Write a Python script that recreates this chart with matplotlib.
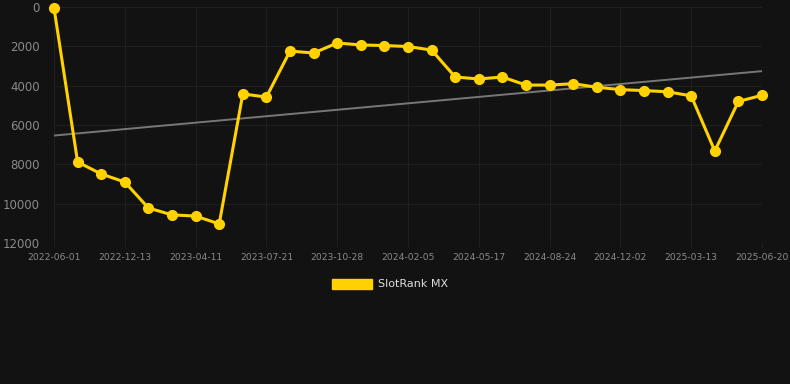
import matplotlib
matplotlib.use("Agg")
import matplotlib.pyplot as plt
import numpy as np
from matplotlib.patches import Patch

plt.rcParams['font.family'] = ['DejaVu Sans']

dates = ["2022-06-01", "2022-08-06", "2022-10-10", "2022-12-13", "2023-01-22",
         "2023-03-02", "2023-04-11", "2023-05-15", "2023-06-18", "2023-07-21",
         "2023-08-24", "2023-09-25", "2023-10-28", "2023-11-30", "2024-01-03",
         "2024-02-05", "2024-03-09", "2024-04-13", "2024-05-17", "2024-06-19",
         "2024-07-22", "2024-08-24", "2024-09-26", "2024-10-30", "2024-12-02",
         "2025-01-04", "2025-02-08", "2025-03-13", "2025-04-15", "2025-05-18",
         "2025-06-20"]
rank = [50, 7880, 8490, 8900, 10220, 10570, 10630, 11030, 4420, 4580,
        2240, 2340, 1830, 1930, 1960, 2010, 2190, 3560, 3660, 3560,
        3970, 3970, 3900, 4080, 4200, 4250, 4310, 4520, 7320, 4800,
        4490]
series_name = "SlotRank MX"
yticks = [0, 2000, 4000, 6000, 8000, 10000, 12000]

bg = "#121212"
gold = "#FFD200"

fig = plt.figure(figsize=(7.9, 3.84), dpi=100, facecolor=bg)
ax = fig.add_axes([54/790, 1-243/384, (762-54)/790, (243-7)/384], facecolor=bg)

x = np.arange(len(dates))
coef = np.polyfit(x, rank, 1)
ax.plot(x, np.polyval(coef, x), color="#777777", lw=1.4, zorder=2)
ax.plot(x, rank, color=gold, lw=2.2, marker="o", markersize=7, zorder=3, clip_on=False)

ax.set_xlim(0, len(dates) - 1)
ax.set_ylim(12000, 0)
ax.set_yticks(yticks)
ax.set_yticklabels([str(v) for v in yticks])
ax.set_xticks(x[::3])
ax.set_xticklabels(dates[::3])

ax.grid(True, color="#1f1f1f", lw=0.8)
for s in ax.spines.values():
    s.set_visible(False)
ax.tick_params(axis="y", length=0, pad=10, labelsize=8.5, labelcolor="#8a8a8a")
ax.tick_params(axis="x", length=3, color="#1f1f1f", pad=4, labelsize=6.6, labelcolor="#8a8a8a")

handles = [Patch(facecolor=gold, edgecolor=gold, label=series_name)]
fig.legend(handles=handles, loc="center", bbox_to_anchor=(390/790, 1-284/384),
           frameon=False, fontsize=8, labelcolor="#dddddd",
           handlelength=3.6, handleheight=1.0, handletextpad=0.6)

fig.savefig("out.png", dpi=100, facecolor=bg)
